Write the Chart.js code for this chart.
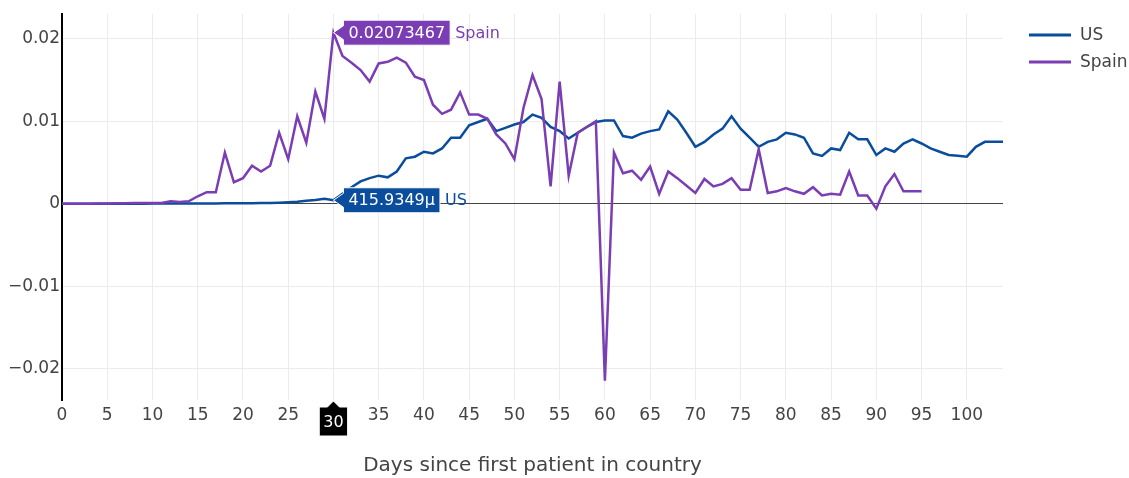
<!DOCTYPE html>
<html>
<head>
<meta charset="utf-8">
<script src="https://cdn.jsdelivr.net/npm/chart.js@4.4.1/dist/chart.umd.min.js"></script>
<style>
  html, body { margin: 0; padding: 0; background: #fff; }
  #chart { display: block; }
</style>
</head>
<body>
<canvas id="chart" width="1129" height="478"></canvas>
<script>
// days since first patient (x values)
const days = [
  0, 1, 2, 3, 4, 5, 6, 7, 8, 9, 10, 11, 12, 13, 14, 15, 16, 17, 18, 19,
  20, 21, 22, 23, 24, 25, 26, 27, 28, 29, 30, 31, 32, 33, 34, 35, 36, 37, 38, 39,
  40, 41, 42, 43, 44, 45, 46, 47, 48, 49, 50, 51, 52, 53, 54, 55, 56, 57, 58, 59,
  60, 61, 62, 63, 64, 65, 66, 67, 68, 69, 70, 71, 72, 73, 74, 75, 76, 77, 78, 79,
  80, 81, 82, 83, 84, 85, 86, 87, 88, 89, 90, 91, 92, 93, 94, 95, 96, 97, 98, 99,
  100, 101, 102, 103, 104
];

const usValues = [
  0, 0, 0, 0, 0, 0, 0, 0, 0, 0,
  0.00002, 0.00002, 0.00002, 0.00002, 0.00002, 0.00003, 0.00003, 0.00003, 0.00004, 0.00004,
  0.00005, 0.00006, 0.00008, 0.0001, 0.00013, 0.00018, 0.00025, 0.00035, 0.00045, 0.0006,
  0.0004159349, 0.0012, 0.002, 0.0027, 0.0031, 0.0034, 0.0032, 0.0039, 0.0055, 0.0057,
  0.0063, 0.0061, 0.0067, 0.008, 0.008, 0.0095, 0.0099, 0.0103, 0.0088, 0.0092,
  0.0096, 0.0099, 0.0108, 0.0104, 0.0093, 0.0088, 0.0079, 0.0086, 0.0093, 0.0099,
  0.0101, 0.0101, 0.0082, 0.008, 0.0085, 0.0088, 0.009, 0.0112, 0.0102, 0.0086,
  0.0069, 0.0075, 0.0084, 0.0091, 0.0106, 0.0091, 0.008, 0.0069, 0.0075, 0.0078,
  0.0086, 0.0084, 0.008, 0.0061, 0.0058, 0.0067, 0.0065, 0.0086, 0.0078, 0.0078,
  0.0059, 0.0067, 0.0063, 0.0073, 0.0078, 0.0073, 0.0067, 0.0063, 0.0059, 0.0058,
  0.0057, 0.0069, 0.0075, 0.0075, 0.0075
];

const spainValues = [
  0, 0, 0, 0, 0.00003, 0.00003, 0.00005, 0.00005, 0.00008, 0.0001,
  0.0001, 0.0001, 0.0003, 0.0002, 0.0003, 0.0009, 0.0014, 0.0014, 0.0062, 0.0026,
  0.0031, 0.0046, 0.0039, 0.0046, 0.0086, 0.0054, 0.0106, 0.0074, 0.0136, 0.0103,
  0.02073467, 0.0179, 0.0171, 0.0162, 0.0148, 0.017, 0.0172, 0.0177, 0.0171, 0.0154,
  0.015, 0.012, 0.0109, 0.0114, 0.0135, 0.0108, 0.0108, 0.0103, 0.0084, 0.0073,
  0.0054, 0.0116, 0.0156, 0.0127, 0.0021, 0.0148, 0.0034, 0.0086, 0.0093, 0.01,
  -0.02145, 0.0062, 0.0037, 0.004, 0.0029, 0.0045, 0.0012, 0.0039, 0.0031, 0.0022,
  0.0013, 0.003, 0.0021, 0.0024, 0.0031, 0.0017, 0.0017, 0.0066, 0.0013, 0.0015,
  0.0019, 0.0015, 0.0012, 0.002, 0.001, 0.0012, 0.0011, 0.0039, 0.001, 0.001,
  -0.0006, 0.0021, 0.0036, 0.0015, 0.0015, 0.0015
];

const xTickValues = [0, 5, 10, 15, 20, 25, 30, 35, 40, 45, 50, 55, 60, 65, 70, 75, 80, 85, 90, 95, 100];
const yTickValues = [-0.02, -0.01, 0, 0.01, 0.02];

const hoverDay = 30;

const US_COLOR = "#0a4d9c";
const SPAIN_COLOR = "#7a3db3";
const FONT = '"DejaVu Sans", Verdana, sans-serif';

function toPoints(values) {
  return values.map((v, i) => ({ x: days[i], y: v }));
}

function formatY(v) {
  if (v === 0) return "0";
  return (v < 0 ? "\u2212" : "") + String(Math.round(Math.abs(v) * 1000) / 1000);
}

// label box with an arrow pointing at (tipX, tipY), plotly style
function hoverBox(ctx, tipX, tipY, text, name, color) {
  ctx.save();
  ctx.font = "16px " + FONT;
  const tw = ctx.measureText(text).width;
  const pad = 5, arrow = 10, h = 25;
  const bx = tipX + arrow, bw = tw + pad * 2;
  const top = tipY - h / 2;
  ctx.beginPath();
  ctx.moveTo(tipX, tipY);
  ctx.lineTo(bx, tipY - 7);
  ctx.lineTo(bx, top);
  ctx.lineTo(bx + bw, top);
  ctx.lineTo(bx + bw, top + h);
  ctx.lineTo(bx, top + h);
  ctx.lineTo(bx, tipY + 7);
  ctx.closePath();
  ctx.fillStyle = color;
  ctx.fill();
  ctx.strokeStyle = "#fff";
  ctx.lineWidth = 1;
  ctx.stroke();
  ctx.fillStyle = "#fff";
  ctx.textBaseline = "middle";
  ctx.textAlign = "left";
  ctx.fillText(text, bx + pad, tipY + 1);
  ctx.fillStyle = color;
  ctx.fillText(name, bx + bw + 5, tipY + 1);
  ctx.restore();
}

const hoverPlugin = {
  id: "hoverLabels",
  afterDatasetsDraw(chart) {
    const ctx = chart.ctx;
    const xs = chart.scales.x, ys = chart.scales.y;
    const px = xs.getPixelForValue(days[hoverDay]);
    const spainVal = spainValues[hoverDay];
    const usVal = usValues[hoverDay];
    hoverBox(ctx, px, ys.getPixelForValue(spainVal), String(spainVal), "Spain", SPAIN_COLOR);
    hoverBox(ctx, px, ys.getPixelForValue(usVal), (usVal * 1e6).toFixed(4) + "\u03bc", "US", US_COLOR);

    // spike label on the x axis
    const bottom = chart.chartArea.bottom;
    ctx.save();
    ctx.font = "16px " + FONT;
    const label = String(days[hoverDay]);
    const w = ctx.measureText(label).width + 8;
    const top = bottom + 7, h = 29;
    ctx.beginPath();
    ctx.moveTo(px, bottom + 1);
    ctx.lineTo(px + 6, top);
    ctx.lineTo(px + w / 2, top);
    ctx.lineTo(px + w / 2, top + h);
    ctx.lineTo(px - w / 2, top + h);
    ctx.lineTo(px - w / 2, top);
    ctx.lineTo(px - 6, top);
    ctx.closePath();
    ctx.fillStyle = "#000";
    ctx.fill();
    ctx.strokeStyle = "#fff";
    ctx.stroke();
    ctx.fillStyle = "#fff";
    ctx.textAlign = "center";
    ctx.textBaseline = "middle";
    ctx.fillText(label, px, top + h / 2 + 1);
    ctx.restore();
  }
};

// simple legend in the top right corner
const legendPlugin = {
  id: "sideLegend",
  afterDraw(chart) {
    const ctx = chart.ctx;
    const items = chart.data.datasets.map(d => ({ label: d.label, color: d.borderColor }));
    ctx.save();
    ctx.font = "17px " + FONT;
    ctx.textBaseline = "middle";
    items.forEach((it, i) => {
      const y = 35 + i * 27;
      ctx.strokeStyle = it.color;
      ctx.lineWidth = 3;
      ctx.beginPath();
      ctx.moveTo(1029, y);
      ctx.lineTo(1071, y);
      ctx.stroke();
      ctx.fillStyle = "#444";
      ctx.fillText(it.label, 1080, y + 1);
    });
    ctx.restore();
  }
};

const ctx = document.getElementById("chart").getContext("2d");

new Chart(ctx, {
  type: "line",
  data: {
    datasets: [
      {
        label: "US",
        data: toPoints(usValues),
        borderColor: US_COLOR,
        borderWidth: 2.5,
        pointRadius: 0,
        tension: 0,
        fill: false,
        order: 1
      },
      {
        label: "Spain",
        data: toPoints(spainValues),
        borderColor: SPAIN_COLOR,
        borderWidth: 2.5,
        pointRadius: 0,
        tension: 0,
        fill: false,
        order: 0
      }
    ]
  },
  options: {
    responsive: false,
    animation: false,
    devicePixelRatio: 1,
    layout: { padding: { left: 0, top: 14, right: 126, bottom: 0 } },
    plugins: {
      legend: { display: false },
      tooltip: { enabled: false }
    },
    scales: {
      x: {
        type: "linear",
        min: 0,
        max: 104,
        afterBuildTicks: axis => { axis.ticks = xTickValues.map(v => ({ value: v })); },
        afterFit: axis => {
          axis.height = 78;
          axis.paddingLeft = 0;
          axis.paddingRight = 0;
        },
        grid: { color: "#ebebeb", lineWidth: 1, drawTicks: false },
        border: { display: false },
        ticks: {
          padding: 5,
          maxRotation: 0,
          autoSkip: false,
          color: "#444",
          font: { family: FONT, size: 17 }
        },
        title: {
          display: true,
          text: "Days since first patient in country",
          color: "#444",
          font: { family: FONT, size: 20 },
          padding: { top: 0, bottom: 0 }
        }
      },
      y: {
        min: -0.0238,
        max: 0.023,
        afterBuildTicks: axis => { axis.ticks = yTickValues.map(v => ({ value: v })); },
        afterFit: axis => {
          axis.width = 62;
          axis.paddingTop = 0;
          axis.paddingBottom = 0;
        },
        grid: {
          color: c => (c.tick && c.tick.value === 0 ? "#444" : "#ebebeb"),
          lineWidth: 1,
          drawTicks: false
        },
        border: { display: true, color: "#000", width: 2 },
        ticks: {
          padding: 2,
          color: "#444",
          font: { family: FONT, size: 17 },
          callback: v => formatY(v)
        }
      }
    }
  },
  plugins: [hoverPlugin, legendPlugin]
});
</script>
</body>
</html>
